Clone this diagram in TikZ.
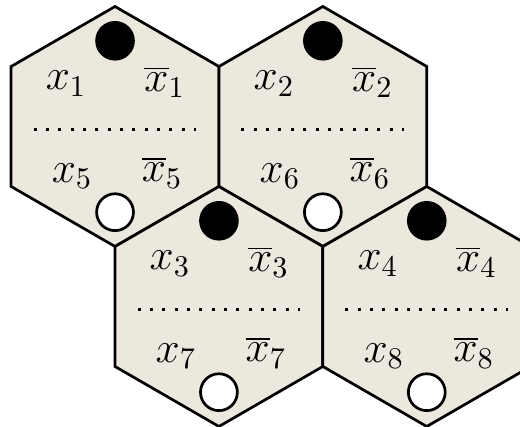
\documentclass[tikz,border=0pt]{standalone}
\usepackage{tikz}
\usetikzlibrary{calc}
\definecolor{hxFill}{RGB}{236,232,221}

\begin{document}
\begin{tikzpicture}[
  hexcell/.style ={draw=black,fill=hxFill,line width=0.9pt,line join=miter},
  tokfull/.style ={circle,draw=black,fill=black,line width=0.9pt,
                   inner sep=0pt,minimum size=0.43cm},
  tokempty/.style={circle,draw=black,fill=white,line width=0.9pt,
                   inner sep=0pt,minimum size=0.43cm},
  divider/.style ={line width=1pt,dash pattern=on 1pt off 3.1pt},
  lit/.style     ={font=\Large,inner sep=0pt}
]
\useasboundingbox (-1.342,-3.506) rectangle (4.725,1.476);
\coordinate (C1) at (0,0);
\coordinate (C2) at (2.4249,0);
\coordinate (C3) at (1.2124,-2.1);
\coordinate (C4) at (3.6373,-2.1);

\foreach \c/\a/\b in {C1/1/5,C2/2/6,C3/3/7,C4/4/8}{
  \draw[hexcell] ($(\c)+(90:1.4)$)
    \foreach \k in {1,...,5}{ -- ($(\c)+(90+60*\k:1.4)$) } -- cycle;
  \node[tokfull]  (top\a) at ($(\c)+(0,1.0)$) {};
  \node[tokempty] (bot\a) at ($(\c)+(0,-1.0)$) {};
  \draw[divider] ($(\c)+(-0.95,-0.03)$) -- ($(\c)+(0.95,-0.03)$);
  \node[lit] (pos\a) at ($(\c)+(-0.57,0.50)$) {$x_{\a}$};
  \node[lit] (neg\a) at ($(\c)+(0.58,0.52)$) {$\overline{x}_{\a}$};
  \node[lit] (pos\b) at ($(\c)+(-0.50,-0.58)$) {$x_{\b}$};
  \node[lit] (neg\b) at ($(\c)+(0.55,-0.54)$) {$\overline{x}_{\b}$};
}
\end{tikzpicture}
\end{document}
